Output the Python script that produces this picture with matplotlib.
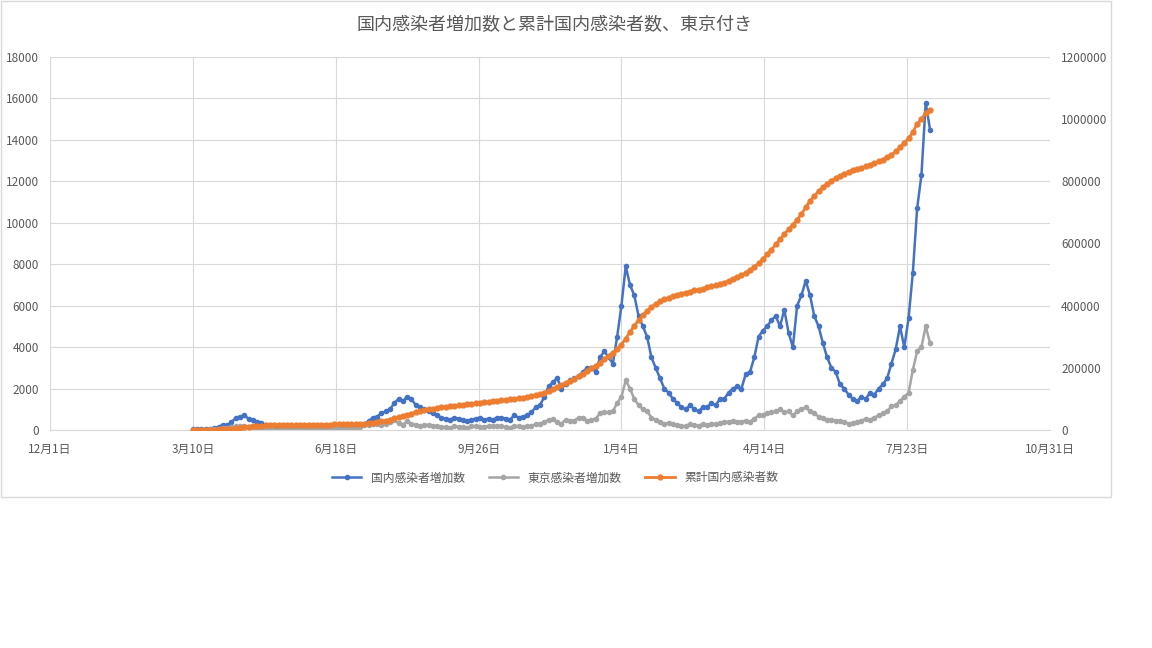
import datetime as dt

import matplotlib
matplotlib.use("Agg")
import matplotlib.pyplot as plt
from matplotlib.patches import Rectangle

plt.rcParams["font.family"] = ["Noto Sans CJK JP", "DejaVu Sans"]

# 3-day samples starting 2020-03-10
START = dt.date(2020, 3, 10)
national = [
    50, 40, 60, 45, 60, 100, 150, 250, 230, 380,
    580, 650, 700, 550, 480, 400, 350, 250, 200, 150,
    100, 90, 60, 40, 30, 25, 30, 35, 40, 40,
    45, 50, 40, 55, 60, 70, 90, 100, 120, 250,
    300, 420, 600, 650, 800, 900, 1000, 1300, 1500, 1400,
    1600, 1500, 1200, 1100, 1000, 900, 800, 700, 600, 550,
    500, 600, 550, 500, 450, 500, 550, 600, 500, 550,
    500, 600, 600, 550, 500, 700, 600, 650, 700, 850,
    1100, 1200, 1600, 2100, 2300, 2500, 2000, 2200, 2400, 2500,
    2600, 2800, 3000, 3000, 2800, 3500, 3800, 3500, 3200, 4500,
    6000, 7900, 7000, 6500, 5500, 5000, 4500, 3500, 3000, 2500,
    2000, 1800, 1500, 1300, 1100, 1000, 1200, 1000, 900, 1100,
    1100, 1300, 1200, 1500, 1500, 1800, 2000, 2100, 2000, 2700,
    2800, 3500, 4500, 4800, 5000, 5300, 5500, 5000, 5800, 4700,
    4000, 6000, 6500, 7200, 6500, 5500, 5000, 4200, 3500, 3000,
    2800, 2200, 2000, 1700, 1500, 1400, 1600, 1500, 1800, 1700,
    2000, 2200, 2500, 3200, 3900, 5000, 4000, 5400, 7600, 10700,
    12300, 15800, 14500,
]
tokyo = [
    5, 10, 15, 20, 30, 40, 60, 100, 120, 150,
    190, 180, 200, 150, 120, 100, 60, 40, 25, 15,
    10, 10, 5, 5, 10, 15, 10, 20, 25, 20,
    15, 20, 25, 30, 40, 50, 55, 60, 100, 130,
    220, 240, 290, 300, 260, 280, 400, 470, 330, 260,
    420, 300, 250, 200, 230, 250, 200, 180, 150, 140,
    120, 170, 160, 130, 90, 200, 180, 160, 150, 200,
    180, 200, 170, 150, 120, 200, 180, 150, 170, 200,
    280, 300, 370, 500, 530, 400, 300, 500, 450, 450,
    600, 600, 450, 500, 550, 800, 850, 850, 900, 1300,
    1600, 2400, 2000, 1500, 1200, 1000, 900, 600, 500, 400,
    300, 350, 280, 250, 200, 180, 300, 250, 200, 300,
    250, 300, 300, 340, 400, 400, 420, 400, 400, 450,
    400, 550, 700, 700, 800, 850, 900, 1000, 850, 900,
    700, 900, 1000, 1100, 900, 800, 650, 600, 500, 500,
    450, 450, 400, 300, 350, 400, 450, 550, 500, 600,
    700, 800, 900, 1150, 1200, 1400, 1600, 1800, 2900, 3800,
    4000, 5000, 4200,
]
cumulative_k = [
    0.6, 0.7, 0.8, 0.9, 1.1, 1.4, 1.8, 2.4, 3.2, 4.2,
    5.5, 7.3, 9.2, 10.8, 12.3, 13.4, 14.3, 15.0, 15.5, 15.8,
    16.1, 16.4, 16.5, 16.6, 16.7, 16.8, 16.9, 17.0, 17.1, 17.2,
    17.3, 17.5, 17.6, 17.8, 18.0, 18.2, 18.5, 18.8, 19.1, 19.5,
    20.2, 21.3, 23, 25, 27.5, 30, 33, 37, 41, 45,
    49, 53, 57, 60.5, 63.5, 66, 68.5, 70.5, 72.5, 74.5,
    76, 77.7, 79.4, 81, 82.5, 84, 85.5, 87.2, 88.8, 90.3,
    91.8, 93.5, 95.3, 97, 98.6, 100.5, 102.3, 104.2, 106.3, 108.7,
    111.5, 115, 119.5, 125, 131.5, 138.5, 145, 151, 158, 165.5,
    173, 181, 190, 199, 207.5, 217, 228, 239, 249, 261,
    275, 294, 315, 335, 353, 369, 383, 395, 405, 414,
    420, 426, 431, 435.5, 439, 442, 445.5, 449, 452, 455,
    458.5, 462, 465.5, 470, 474.5, 480, 486, 492, 498, 506,
    514, 524, 536, 550, 565, 580, 597, 613, 630, 646,
    660, 676, 695, 716, 737, 753, 768, 781, 792, 802,
    811, 818, 825, 830, 835, 839, 844, 848, 853, 858,
    864, 870, 877, 886, 896, 910, 924, 938, 958, 985,
    1000, 1020, 1030,
]
dates = [START + dt.timedelta(days=3 * i) for i in range(len(national))]
cumulative = [v * 1000 for v in cumulative_k]

BLUE, GRAY, ORANGE = "#4472C4", "#A5A5A5", "#ED7D31"

fig = plt.figure(figsize=(11.52, 6.48), dpi=100)
fig.patches.append(Rectangle((0.0005, 1 - 497 / 648), 1110 / 1152, 496 / 648,
                             transform=fig.transFigure, fill=False,
                             edgecolor="#D9D9D9", lw=1))
ax = fig.add_axes([50 / 1152, 1 - 430 / 648, 1000 / 1152, 373 / 648])
ax2 = ax.twinx()

l1, = ax.plot(dates, national, color=BLUE, marker="o", ms=3, lw=1.8, label="国内感染者増加数")
l2, = ax.plot(dates, tokyo, color=GRAY, marker="o", ms=3, lw=1.8, label="東京感染者増加数")
l3, = ax2.plot(dates, cumulative, color=ORANGE, marker="o", ms=3.5, lw=2, label="累計国内感染者数")

x0, x1 = dt.date(2019, 12, 1), dt.date(2021, 10, 31)
ticks = [x0 + dt.timedelta(days=100 * i) for i in range(8)]
ax.set_xlim(x0, x1)
ax.set_xticks(ticks)
ax.set_xticklabels([f"{d.month}月{d.day}日" for d in ticks])
ax.set_ylim(0, 18000)
ax.set_yticks(range(0, 18001, 2000))
ax2.set_ylim(0, 1200000)
rticks = list(range(0, 1200001, 200000))
ax2.set_yticks(rticks)
ax2.set_yticklabels([str(v) for v in rticks])
ax.grid(True, color="#D9D9D9", lw=0.8)
ax.set_axisbelow(True)
for a in (ax, ax2):
    for s in a.spines.values():
        s.set_visible(False)
    a.tick_params(length=0, labelsize=8.5, colors="#595959")
ax.tick_params(axis="x", pad=9)
ax.tick_params(axis="y", pad=8)
ax2.tick_params(axis="y", pad=8)
ax.spines["bottom"].set_visible(True)
ax.spines["bottom"].set_color("#D9D9D9")

fig.text(555 / 1152, 1 - 25 / 648, "国内感染者増加数と累計国内感染者数、東京付き",
         ha="center", va="center", fontsize=13, color="#595959")
fig.legend(handles=[l1, l2, l3], loc="center", bbox_to_anchor=(555 / 1152, 1 - 478 / 648),
           ncol=3, frameon=False, fontsize=8.5, labelcolor="#595959", handlelength=2.5)

fig.savefig("out.png", dpi=100)
